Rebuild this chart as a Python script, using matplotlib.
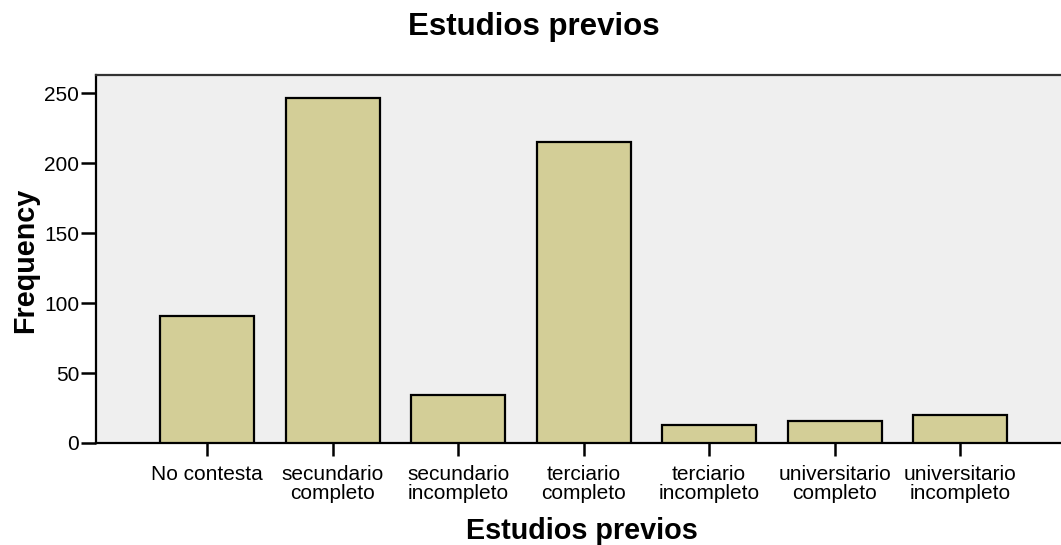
import matplotlib
matplotlib.use("Agg")
import matplotlib.pyplot as plt

categories = ["No contesta", "secundario\ncompleto", "secundario\nincompleto",
              "terciario\ncompleto", "terciario\nincompleto",
              "universitario\ncompleto", "universitario\nincompleto"]
frequencies = [91, 247, 34, 215, 13, 16, 20]
yticks = [0, 50, 100, 150, 200, 250]

plt.rcParams['font.family'] = ['Liberation Sans', 'DejaVu Sans']

W, H = 1061, 545
fig = plt.figure(figsize=(W / 100, H / 100), dpi=100)
ax = fig.add_axes([96 / W, 102 / H, 965 / W, 368.3 / H])
ax.set_facecolor('#EFEFEF')

x = list(range(len(categories)))
ax.bar(x, frequencies, width=0.75, color='#D3CE97', edgecolor='black', linewidth=1.6, zorder=3)

ax.set_xlim(-0.887, 6.805)
ax.set_ylim(0, 263.3)
ax.set_xticks(x)
ax.set_xticklabels(categories, fontsize=15, linespacing=1.0, ha='center', multialignment='center')
ax.set_yticks(yticks)
ax.set_yticklabels([str(v) for v in yticks], fontsize=15)

ax.tick_params(axis='x', length=9.5, width=1.8, pad=6.5, color='black')
ax.tick_params(axis='y', length=11, width=1.8, pad=1, color='black')

for s in ['left', 'bottom', 'top']:
    ax.spines[s].set_linewidth(1.6)
    ax.spines[s].set_color('black')
ax.spines['top'].set_color('#333333')
ax.spines['right'].set_visible(False)

fig.text(533.4 / W, (H - 35) / H, "Estudios previos", fontsize=22.5, fontweight='bold',
         ha='center', va='baseline')
fig.text(582 / W, (H - 539) / H, "Estudios previos", fontsize=20.7, fontweight='bold',
         ha='center', va='baseline')
fig.text(33.3 / W, (H - 260.5) / H, "Frequency", fontsize=20.7, fontweight='bold',
         rotation=90, rotation_mode='anchor', ha='center', va='baseline')

fig.savefig("out.png", dpi=100)
